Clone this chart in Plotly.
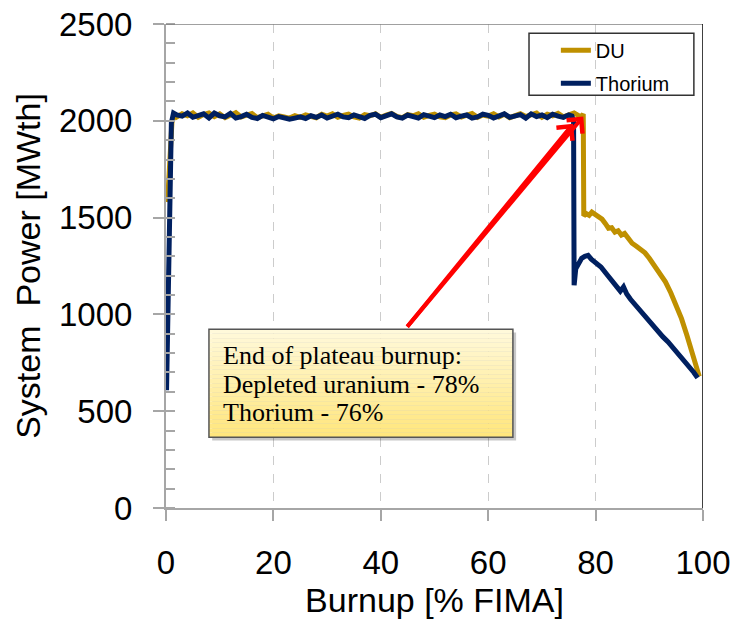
import plotly.graph_objects as go

# ---------------- data ----------------
du_rise_x = [0.3, 0.7, 1.1, 1.6]
du_rise_y = [1580, 1850, 1990, 2035]
du_plateau_x = list(range(2, 78))
du_plateau_y = [
    2020, 2036, 2026, 2040, 2018, 2032, 2040, 2022, 2036, 2016,
    2030, 2042, 2020, 2028, 2038, 2016, 2026, 2034, 2014, 2026,
    2020, 2014, 2026, 2018, 2030, 2022, 2016, 2034, 2024, 2036,
    2018, 2028, 2034, 2020, 2014, 2032, 2026, 2036, 2018, 2030,
    2038, 2022, 2016, 2032, 2026, 2036, 2018, 2028, 2034, 2020,
    2016, 2030, 2036, 2020, 2026, 2038, 2018, 2030, 2024, 2036,
    2020, 2034, 2016, 2028, 2036, 2022, 2030, 2040, 2018, 2034,
    2026, 2038, 2020, 2032, 2040, 2024,
]
du_tail_x = [77.3, 77.7, 77.8, 78.3, 78.8, 79.3, 80, 80.6, 81.2, 81.8,
             82.4, 83, 83.6, 84.2, 84.8, 85.4, 86, 86.8, 87.6, 88.4,
             89.2, 90, 91, 92, 93, 94, 95, 96, 97, 98, 99.3]
du_tail_y = [2020, 2035, 1510, 1520, 1512, 1528, 1515, 1500, 1492, 1470,
             1445, 1448, 1425, 1432, 1410, 1418, 1392, 1368, 1352, 1335,
             1318, 1290, 1252, 1212, 1168, 1112, 1048, 978, 892, 800, 680]

th_rise_x = [0.1, 0.6, 1.0, 1.4]
th_rise_y = [608, 1500, 1990, 2040]
th_plateau_x = list(range(2, 76))
th_plateau_y = [
    2030, 2024, 2040, 2018, 2028, 2036, 2015, 2040, 2026, 2020,
    2038, 2014, 2022, 2034, 2018, 2012, 2028, 2016, 2010, 2022,
    2016, 2008, 2014, 2020, 2012, 2026, 2018, 2030, 2014, 2024,
    2034, 2020, 2016, 2030, 2022, 2012, 2028, 2034, 2016, 2026,
    2036, 2020, 2014, 2030, 2024, 2014, 2032, 2026, 2016, 2030,
    2022, 2034, 2016, 2024, 2030, 2014, 2020, 2034, 2028, 2014,
    2024, 2036, 2018, 2026, 2032, 2014, 2036, 2022, 2030, 2016,
    2034, 2024, 2018, 2030,
]
th_tail_x = [75.6, 75.9, 76.0, 76.3, 76.8, 77.4, 78.0, 78.6, 79.2, 80,
             81, 82, 83, 84, 84.6, 85.2, 85.8, 86.5, 87.5, 88.5,
             89.5, 90.5, 91.5, 92.5, 93.5, 94.5, 95.5, 96.5, 97.5, 98.3, 99]
th_tail_y = [2025, 2000, 1150, 1235, 1265, 1290, 1300, 1305, 1285, 1268,
             1245, 1210, 1178, 1140, 1120, 1142, 1105, 1078, 1045, 1010,
             978, 948, 918, 885, 858, 825, 795, 765, 732, 700, 672]

x_ticks = [0, 20, 40, 60, 80, 100]
y_ticks = [0, 500, 1000, 1500, 2000, 2500]
series_names = ["DU", "Thorium"]
note_lines = ["End of plateau burnup:", "Depleted uranium - 78%", "Thorium - 76%"]
note_line_y = [786, 640, 492]
arrow_tail = (44.7, 929)
arrow_heads = [(77.7, 2022), (75.8, 1985)]

du_x = du_rise_x + du_plateau_x + du_tail_x
du_y = du_rise_y + du_plateau_y + du_tail_y
th_x = th_rise_x + th_plateau_x + th_tail_x
th_y = th_rise_y + th_plateau_y + th_tail_y

# ---------------- figure ----------------
fig = go.Figure()
fig.add_trace(go.Scatter(x=du_x, y=du_y, mode="lines", name=series_names[0],
                         legendgroup="a",
                         line=dict(color="#BF9000", width=5)))
fig.add_trace(go.Scatter(x=th_x, y=th_y, mode="lines", name=series_names[1],
                         legendgroup="b",
                         line=dict(color="#002060", width=5)))

axis_gray = "#A6A6A6"
fig.update_xaxes(
    range=[0, 100], tickvals=x_ticks, ticks="outside", ticklen=11,
    tickcolor=axis_gray, tickwidth=1.5, showline=True, linecolor=axis_gray,
    linewidth=2, showgrid=True, gridcolor="#CCCCCC", griddash="dash",
    gridwidth=1, zeroline=False, automargin=False, ticklabeloverflow="allow",
    tickfont=dict(family="Liberation Sans, Arial", size=33, color="black"),
    ticklabelstandoff=13,
    title=dict(text="Burnup [% FIMA]", standoff=0,
               font=dict(family="Liberation Sans, Arial", size=34, color="black")),
)
fig.update_yaxes(
    range=[0, 2500], tickvals=y_ticks, ticks="outside", ticklen=11,
    tickcolor=axis_gray, tickwidth=1.5, showline=True, linecolor=axis_gray,
    linewidth=2, showgrid=False, zeroline=False, automargin=False,
    ticklabeloverflow="allow",
    minor=dict(ticks="inside", ticklen=9, dtick=100, tickcolor=axis_gray,
               tickwidth=1.5, showgrid=False),
    tickfont=dict(family="Liberation Sans, Arial", size=33, color="black"),
    ticklabelstandoff=14,
    title=dict(text="System  Power [MWth]", standoff=8,
               font=dict(family="Liberation Sans, Arial", size=34, color="black")),
)

shapes = []
# frame top & right
shapes.append(dict(type="line", xref="x", yref="y", x0=0, x1=100, y0=2500, y1=2500,
                   line=dict(color="#808080", width=1.5), layer="above"))
shapes.append(dict(type="line", xref="x", yref="y", x0=100, x1=100, y0=0, y1=2500,
                   line=dict(color="#000000", width=1.5), layer="above"))
# legend frame
shapes.append(dict(type="rect", xref="paper", yref="paper", x0=0.676, x1=0.983,
                   y0=0.853, y1=0.981, line=dict(color="#333333", width=1.5),
                   fillcolor="rgba(0,0,0,0)", layer="above"))

# note box: shadow, gradient, border
bx0, bx1, by0, by1 = 8.0, 64.6, 365, 923
shapes.append(dict(type="rect", xref="x", yref="y", x0=bx0 + 0.6, x1=bx1 + 0.6,
                   y0=by0 - 16, y1=by1 - 16, line=dict(width=0),
                   fillcolor="rgba(0,0,0,0.22)", layer="above"))
n_bands = 24
top_c = (255, 249, 218)
bot_c = (255, 230, 125)
for i in range(n_bands):
    t = i / (n_bands - 1)
    c = tuple(round(top_c[k] + (bot_c[k] - top_c[k]) * t) for k in range(3))
    y_hi = by1 - (by1 - by0) * i / n_bands
    y_lo = by1 - (by1 - by0) * (i + 1) / n_bands
    shapes.append(dict(type="rect", xref="x", yref="y", x0=bx0, x1=bx1,
                       y0=y_lo, y1=y_hi, line=dict(width=0),
                       fillcolor="rgb(%d,%d,%d)" % c, layer="above"))
shapes.append(dict(type="rect", xref="x", yref="y", x0=bx0, x1=bx1, y0=by0, y1=by1,
                   line=dict(color="#555555", width=1.5),
                   fillcolor="rgba(0,0,0,0)", layer="above"))

annotations = []
for line_text, ly in zip(note_lines, note_line_y):
    annotations.append(dict(
        x=10.2, y=ly, xref="x", yref="y", xanchor="left", yanchor="middle",
        align="left", showarrow=False, text=line_text,
        font=dict(family="Liberation Serif, Times New Roman", size=26, color="black")))
for hx, hy in arrow_heads:
    annotations.append(dict(x=hx, y=hy, xref="x", yref="y", ax=arrow_tail[0],
                            ay=arrow_tail[1], axref="x", ayref="y", text="",
                            showarrow=True, arrowhead=4, arrowsize=1.0,
                            arrowwidth=4, arrowcolor="#FF0000", standoff=0))

fig.update_layout(
    width=735, height=619,
    margin=dict(l=166, r=32, t=24, b=111, autoexpand=False),
    paper_bgcolor="white", plot_bgcolor="white",
    shapes=shapes, annotations=annotations,
    showlegend=True,
    legend=dict(x=0.726, y=0.986, xanchor="left", yanchor="top",
                bgcolor="rgba(0,0,0,0)", borderwidth=0, tracegroupgap=4,
                font=dict(family="Liberation Sans, Arial", size=20, color="black")),
)

# remove the default page margin so the figure fills the window exactly
fig.write_html("out.html",
               config={"displayModeBar": False},
               post_script="document.body.style.margin='0px';document.body.style.overflow='hidden';")
